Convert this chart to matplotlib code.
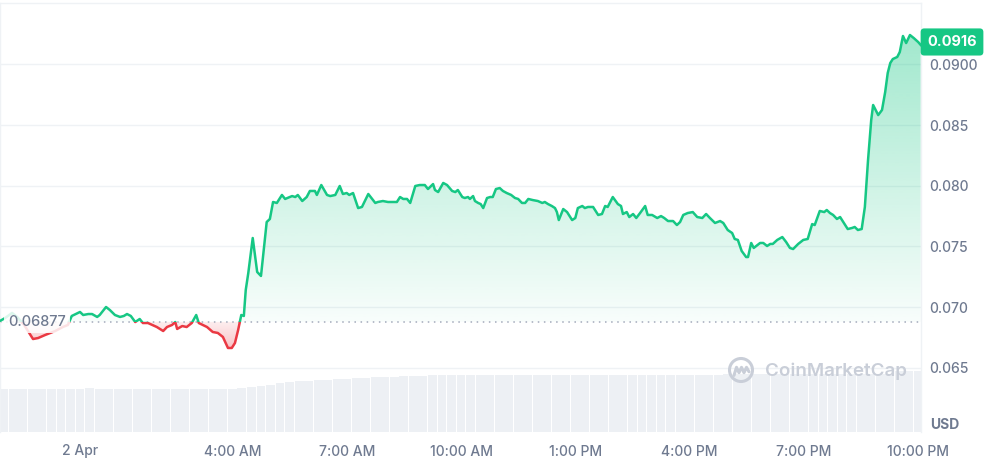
import numpy as np
import matplotlib
matplotlib.use('Agg')
import matplotlib.pyplot as plt
from matplotlib.patches import Rectangle, PathPatch, Circle
from matplotlib.path import Path
from matplotlib.colors import to_rgb

plt.rcParams['font.family'] = ['Inter', 'DejaVu Sans']

# ---------------- data ----------------
# time in minutes relative to 2 Apr 00:00
minutes = [-126, -118, -107, -99, -88, -74, -66, -55, -39, -27, -19, -13, 0, 5, 13, 19, 27, 31, 41, 47,
           55, 63, 69, 74, 80, 87, 94, 99, 107, 121, 131, 137, 145, 150, 153, 161, 168, 176, 183, 187,
           200, 209, 217, 225, 233, 239, 244, 249, 254, 258, 261, 265, 272, 279, 285, 294, 299, 304, 310, 318,
           323, 334, 339, 343, 350, 357, 362, 370, 373, 380, 389, 394, 402, 409, 414, 420, 424, 430, 438, 444,
           454, 465, 469, 477, 485, 493, 499, 504, 509, 515, 520, 528, 535, 543, 548, 556, 559, 564, 572, 578,
           586, 591, 595, 602, 606, 611, 614, 619, 622, 627, 631, 635, 641, 646, 650, 655, 661, 666, 672, 679,
           685, 690, 696, 701, 706, 713, 721, 728, 732, 737, 743, 748, 751, 754, 761, 767, 775, 780, 784, 791,
           795, 800, 808, 816, 822, 827, 831, 839, 847, 852, 855, 861, 865, 871, 876, 882, 890, 894, 901, 909,
           915, 920, 926, 934, 940, 945, 950, 957, 965, 972, 980, 986, 992, 1000, 1008, 1013, 1020, 1027, 1031, 1036,
           1042, 1049, 1052, 1057, 1061, 1071, 1076, 1082, 1087, 1091, 1098, 1106, 1112, 1118, 1123, 1131, 1139, 1146, 1153, 1157,
           1165, 1172, 1176, 1181, 1186, 1192, 1197, 1202, 1209, 1216, 1220, 1225, 1231, 1236, 1241, 1246, 1249, 1253, 1257, 1263,
           1268, 1272, 1276, 1280, 1287, 1291, 1296, 1301, 1307, 1313, 1320, 1324]
prices = [0.06885, 0.06909, 0.06951, 0.06918, 0.06852, 0.06736, 0.06744, 0.06769, 0.06802, 0.06835,
          0.06852, 0.06926, 0.06959, 0.06934, 0.06942, 0.06942, 0.06918, 0.06934, 0.07000, 0.06975,
          0.06934, 0.06918, 0.06926, 0.06942, 0.06926, 0.06876, 0.06901, 0.06868, 0.06868, 0.06835,
          0.06802, 0.06835, 0.06852, 0.06876, 0.06819, 0.06843, 0.06835, 0.06868, 0.06934, 0.06868,
          0.06835, 0.06794, 0.06786, 0.06753, 0.06662, 0.06662, 0.06703, 0.06810, 0.06934, 0.06926,
          0.07140, 0.07280, 0.07569, 0.07289, 0.07256, 0.07701, 0.07726, 0.07866, 0.07858, 0.07924,
          0.07891, 0.07915, 0.07907, 0.07924, 0.07874, 0.07907, 0.07957, 0.07957, 0.07924, 0.08006,
          0.07924, 0.07915, 0.07924, 0.07998, 0.07932, 0.07940, 0.07924, 0.07940, 0.07816, 0.07825,
          0.07932, 0.07858, 0.07866, 0.07874, 0.07866, 0.07866, 0.07866, 0.07907, 0.07891, 0.07891,
          0.07858, 0.07998, 0.08006, 0.08006, 0.07973, 0.08014, 0.07965, 0.07948, 0.08023, 0.08006,
          0.07957, 0.07948, 0.07965, 0.07907, 0.07899, 0.07907, 0.07891, 0.07915, 0.07874, 0.07858,
          0.07849, 0.07816, 0.07899, 0.07907, 0.07907, 0.07973, 0.07981, 0.07957, 0.07940, 0.07924,
          0.07899, 0.07891, 0.07858, 0.07858, 0.07891, 0.07882, 0.07874, 0.07858, 0.07866, 0.07849,
          0.07833, 0.07816, 0.07783, 0.07717, 0.07808, 0.07783, 0.07717, 0.07734, 0.07816, 0.07833,
          0.07816, 0.07825, 0.07825, 0.07759, 0.07767, 0.07833, 0.07825, 0.07907, 0.07849, 0.07833,
          0.07767, 0.07783, 0.07742, 0.07767, 0.07734, 0.07775, 0.07833, 0.07759, 0.07759, 0.07734,
          0.07750, 0.07734, 0.07709, 0.07709, 0.07676, 0.07701, 0.07759, 0.07775, 0.07783, 0.07742,
          0.07734, 0.07767, 0.07734, 0.07693, 0.07709, 0.07693, 0.07635, 0.07610, 0.07561, 0.07553,
          0.07462, 0.07412, 0.07412, 0.07528, 0.07487, 0.07528, 0.07528, 0.07503, 0.07520, 0.07520,
          0.07553, 0.07577, 0.07536, 0.07487, 0.07478, 0.07520, 0.07553, 0.07561, 0.07684, 0.07676,
          0.07792, 0.07783, 0.07800, 0.07775, 0.07759, 0.07726, 0.07742, 0.07701, 0.07643, 0.07652,
          0.07660, 0.07635, 0.07643, 0.07825, 0.08212, 0.08542, 0.08666, 0.08625, 0.08583, 0.08625,
          0.08773, 0.08930, 0.09012, 0.09045, 0.09062, 0.09103, 0.09235, 0.09177, 0.09243, 0.09218,
          0.09185, 0.09161]
base_price = 0.06877
last_price_label = "0.0916"

vol_minutes = [-120 + 15 * i for i in range(97)]
volumes = ([43] * 9 + [44.5] + [43] * 15 +
           [44.5, 45.5, 46.5, 47.5, 49, 50.5, 51, 51.5, 52, 52.5, 53, 53.5, 54, 54.5, 55, 55.5, 55.5, 56, 56, 56.5] +
           [57] * 16 + [57.5] * 15 + [58] * 18 + [61] * 3)

xtick_pos = [0, 240, 420, 600, 780, 960, 1140, 1320]
xtick_labels = ['2 Apr', '4:00 AM', '7:00 AM', '10:00 AM', '1:00 PM', '4:00 PM', '7:00 PM', '10:00 PM']
ytick_pos = [0.065, 0.070, 0.075, 0.080, 0.085, 0.090]
ytick_labels = ['0.065', '0.070', '0.075', '0.080', '0.085', '0.0900']

# ---------------- style ----------------
GREEN = '#16c784'
RED = '#ea3943'
GRID = '#eff2f5'
TXT = '#6f7a90'
W, H = 987, 462
XMIN, XMAX = -126.0, 1324.4
YMIN, YMAX = 0.059691, 0.095113

fig = plt.figure(figsize=(W / 100, H / 100), dpi=100)
rect = [0.0, 30 / H, 921 / W, 429.5 / H]

# volume axes (behind)
ax_v = fig.add_axes(rect)
ax_v.bar(vol_minutes, volumes, width=14, color='#edf0f4', align='center', zorder=1)
ax_v.set_xlim(XMIN, XMAX)
ax_v.set_ylim(0, 429.5)
ax_v.axis('off')

ax = fig.add_axes(rect)
ax.patch.set_alpha(0)
x = np.array(minutes, dtype=float)
y = np.array(prices, dtype=float)

# grid
for v in ytick_pos:
    ax.axhline(v, color=GRID, lw=1, zorder=0)


def grad_fill(above, color, a_far, a_near):
    yy = np.maximum(y, base_price) if above else np.minimum(y, base_price)
    verts = np.column_stack([np.r_[x[0], x, x[-1]], np.r_[base_price, yy, base_price]])
    patch = PathPatch(Path(verts), fc='none', ec='none')
    ax.add_patch(patch)
    n = 256
    rgba = np.zeros((n, 1, 4))
    rgba[..., :3] = to_rgb(color)
    if above:
        far = yy.max()
        rgba[:, 0, 3] = np.linspace(a_near, a_far, n)
        ext = [x[0], x[-1], base_price, far]
    else:
        far = yy.min()
        rgba[:, 0, 3] = np.linspace(a_far, a_near, n)
        ext = [x[0], x[-1], far, base_price]
    im = ax.imshow(rgba, extent=ext, origin='lower', aspect='auto', zorder=1, interpolation='bilinear')
    im.set_clip_path(patch)


grad_fill(True, GREEN, 0.40, 0.03)
grad_fill(False, RED, 0.30, 0.08)

# line, coloured above/below base
lg, = ax.plot(x, y, color=GREEN, lw=1.8, zorder=3, solid_joinstyle='round')
lr, = ax.plot(x, y, color=RED, lw=1.8, zorder=3, solid_joinstyle='round')
clip_up = Rectangle((XMIN - 100, base_price), XMAX - XMIN + 200, 1, transform=ax.transData)
clip_dn = Rectangle((XMIN - 100, base_price - 1), XMAX - XMIN + 200, 1, transform=ax.transData)
lg.set_clip_path(clip_up)
lr.set_clip_path(clip_dn)

# base dotted line
ax.axhline(base_price, color='#a3aabb', lw=1.1, ls=(0, (1, 3)), zorder=2)
ax.text(8 / 921 * (XMAX - XMIN) + XMIN, base_price, f'{base_price:.5f}', ha='left', va='center',
        fontsize=10.5, color=TXT, fontweight='medium', zorder=5,
        bbox=dict(boxstyle='square,pad=0.3', fc='white', ec='none', alpha=0.85))

ax.set_xlim(XMIN, XMAX)
ax.set_ylim(YMIN, YMAX)

ax.set_xticks(xtick_pos)
ax.set_xticklabels(xtick_labels)
ax.yaxis.tick_right()
ax.set_yticks(ytick_pos)
ax.set_yticklabels(ytick_labels)
ax.tick_params(axis='both', length=0, labelsize=10, labelcolor=TXT)
ax.tick_params(axis='x', pad=9)
ax.tick_params(axis='y', pad=6)
for lab in ax.get_xticklabels() + ax.get_yticklabels():
    lab.set_fontweight('medium')

for s in ['top', 'left', 'right']:
    ax.spines[s].set_color(GRID)
    ax.spines[s].set_linewidth(1)
ax.spines['bottom'].set_visible(False)

# last price tag
ax.annotate(last_price_label, xy=(1, y[-1]), xycoords=('axes fraction', 'data'),
            xytext=(31, 3), textcoords='offset pixels', ha='center', va='center',
            fontsize=10.5, fontweight='bold', color='white', zorder=6, annotation_clip=False,
            bbox=dict(boxstyle='round,pad=0.45,rounding_size=0.25', fc=GREEN, ec='none'))

# USD label
fig.text(945 / W, 1 - 425 / H, 'USD', ha='center', va='center', fontsize=10,
         fontweight='bold', color=TXT)

# watermark
WM = '#c9ced8'
fig.text(765 / W, 1 - 371 / H, 'CoinMarketCap', ha='left', va='center', fontsize=13.5,
         fontweight='semibold', color=WM)
cx, cy = 741, H - 370
fig.patches.append(Circle((cx, cy), 11.5, transform=None, fill=False, ec=WM, lw=2.2))
mx = np.array([-7, -4.5, -2, 0.5, 3, 5.5, 8])
my = np.array([-6, 3, -3, 3, -3, 3, -2])
fig.lines.append(matplotlib.lines.Line2D(cx + mx, cy + my * 0.9, transform=None, color=WM, lw=2.2,
                                         solid_joinstyle='round', solid_capstyle='round'))

fig.savefig('out.png', dpi=100)
